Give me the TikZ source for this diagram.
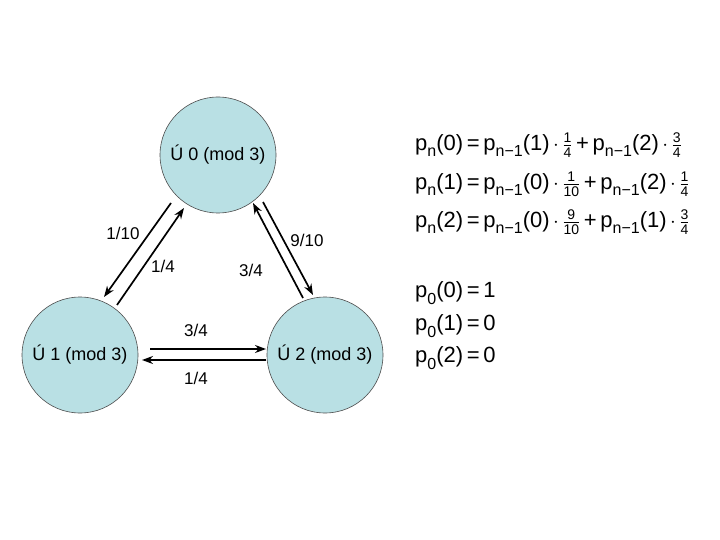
\documentclass[tikz,border=0pt]{standalone}
\usepackage{amsmath}
\usepackage{fontspec}
\setmainfont{Liberation Sans}
\usetikzlibrary{arrows.meta}
\definecolor{statefill}{RGB}{185,224,228}
\newcommand{\sbs}[1]{\raisebox{-0.3em}{\fontsize{16}{16}\selectfont #1}}
\newcommand{\pq}[2]{p\sbs{#1}(#2)}
\newcommand{\smn}[1]{\mbox{\fontsize{14}{14}\selectfont #1}}
\newcommand{\fr}[2]{$\,\cdot\,\genfrac{}{}{0.5pt}{1}{\smn{#1}}{\smn{#2}}$}
\newcommand{\eqs}{\,=\,}
\newcommand{\pls}{\,+\,}
\begin{document}
\begin{tikzpicture}[x=1pt,y=-1pt,
  state/.style={circle,draw=black!70,line width=0.6pt,fill=statefill,minimum size=116pt,inner sep=0pt,font=\fontsize{18}{20}\selectfont},
  arr/.style={line width=1.7pt,-{Stealth[length=11pt,width=8pt]}},
  lab/.style={font=\fontsize{17}{20}\selectfont},
  eq/.style={anchor=west,font=\fontsize{22}{24}\selectfont,inner sep=0pt}]
\useasboundingbox (0,0) rectangle (720,540);
\node[state] (s0) at (218,155) {Ú 0 (mod 3)};
\node[state] (s1) at (80,355) {Ú 1 (mod 3)};
\node[state] (s2) at (325,355) {Ú 2 (mod 3)};
% left pair
\coordinate (a1) at (171,203); \coordinate (a2) at (104,297);
\coordinate (b1) at (117,305); \coordinate (b2) at (184,208);
\draw[arr] (a1) -- (a2);
\draw[arr] (b1) -- (b2);
% right pair
\coordinate (c1) at (303,298); \coordinate (c2) at (253,203);
\coordinate (d1) at (263,202); \coordinate (d2) at (313,295);
\draw[arr] (c1) -- (c2);
\draw[arr] (d1) -- (d2);
% horizontal pair
\coordinate (e1) at (150,349); \coordinate (e2) at (266,349);
\coordinate (f1) at (266,360); \coordinate (f2) at (142,360);
\draw[arr] (e1) -- (e2);
\draw[arr] (f1) -- (f2);
% labels
\node[lab] (l1) at (123,233) {1/10};
\node[lab] (l2) at (307,240) {9/10};
\node[lab] (l3) at (163,266) {1/4};
\node[lab] (l4) at (251,270) {3/4};
\node[lab] (l5) at (196,330) {3/4};
\node[lab] (l6) at (196,378) {1/4};
% equations
\node[eq] (q1) at (415,145) {\pq{n}{0}\eqs\pq{n−1}{1}\fr{1}{4}\pls\pq{n−1}{2}\fr{3}{4}};
\node[eq] (q2) at (415,184) {\pq{n}{1}\eqs\pq{n−1}{0}\fr{1}{10}\pls\pq{n−1}{2}\fr{1}{4}};
\node[eq] (q3) at (415,222) {\pq{n}{2}\eqs\pq{n−1}{0}\fr{9}{10}\pls\pq{n−1}{1}\fr{3}{4}};
\node[eq] (i1) at (415,293) {\pq{0}{0}\eqs 1};
\node[eq] (i2) at (415,326) {\pq{0}{1}\eqs 0};
\node[eq] (i3) at (415,358) {\pq{0}{2}\eqs 0};
\end{tikzpicture}
\end{document}
